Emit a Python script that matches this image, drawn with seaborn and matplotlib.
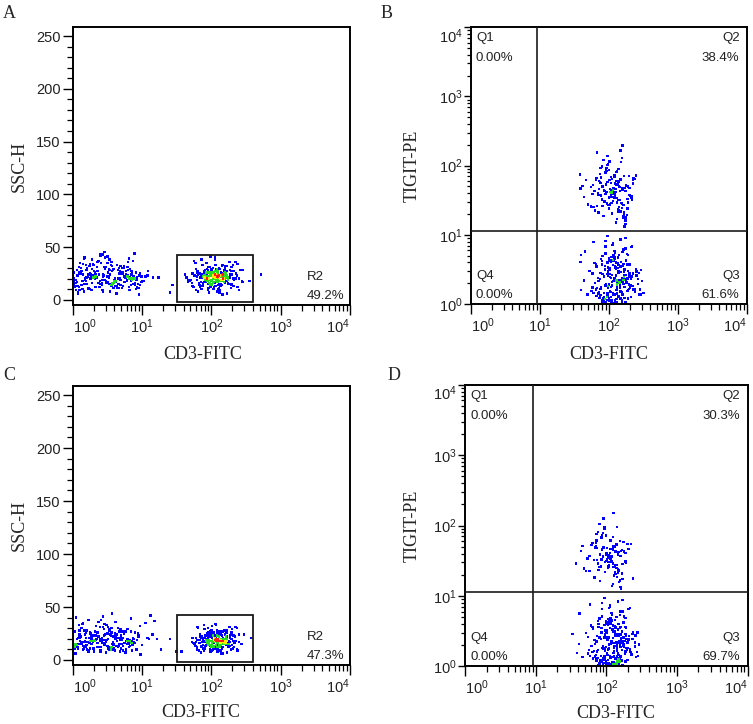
import numpy as np
import pandas as pd
import matplotlib
matplotlib.use("Agg")
import matplotlib.pyplot as plt
import seaborn as sns
from matplotlib.patches import Rectangle
from matplotlib.ticker import LogLocator, MultipleLocator, NullFormatter

# ---------------- data (x values are log10 of CD3-FITC; B/D y values are log10 of TIGIT-PE) -------------
A_neg_logx = [0.02,0.15,0.33,0.48,0.61,0.77,0.88,0.05,0.22,0.41,
              0.56,0.69,0.83,0.95,0.12,0.28,0.37,0.52,0.64,0.73,
              0.91,0.08,0.19,0.45,0.58,0.80,0.03,0.26,0.39,0.67,
              0.85,1.02,0.14,0.31,0.50,0.62,0.75,0.97,0.01,0.24,
              0.43,0.55,0.70,0.87,0.10,0.35,0.47,0.59,0.79,0.93,
              0.06,0.18,0.29,0.53,0.66,0.72,0.84,1.06,0.21,0.40,
              0.57,0.68,0.90,0.04,0.16,0.34,0.46,0.63,0.76,0.99,
              0.11,0.27,0.38,0.51,0.65,0.81,0.94,0.00,0.23,0.44,
              0.60,0.74,0.86,0.13,0.30,0.49,0.54,0.71,0.89,1.09,
              0.07,0.20,0.36,0.42,0.58,0.78,0.82,0.96,0.17,0.32,
              0.47,0.62,0.69,0.88,0.02,0.25,0.39,0.53,0.74,0.92,
              0.09,0.44,0.57,0.66,0.85,0.28,0.50,0.63,0.79,1.01]
A_neg_ssc = [17,24,12,31,20,27,15,9,22,35,
             14,19,29,11,25,38,16,21,33,13,
             26,7,18,23,28,36,12,20,15,30,
             24,18,10,27,41,17,22,14,26,32,
             19,13,25,37,9,21,29,16,23,12,
             28,20,34,15,11,25,18,22,30,43,
             16,27,14,19,8,24,31,13,21,17,
             35,23,12,26,20,39,15,28,10,22,
             18,30,25,14,33,17,24,11,20,27,
             13,21,36,16,29,19,9,23,15,26,
             40,18,32,22,14,25,12,28,17,19,
             31,24,13,20,27,16,35,6,22,18]
A_neg2_logx = [0.31,0.58,0.12,0.86,0.44,0.70,0.03,0.25,0.93,0.51,
               0.17,0.64,0.38,0.80,0.08,0.47,0.74,0.21,0.99,0.56,
               0.34,0.67,0.14,0.89,0.42,0.01,0.60,0.27,0.77,0.49,
               0.19,0.83,0.36,0.62,0.06,0.53,0.91,0.29,0.72,0.45,
               0.11,0.66,0.40,0.85,0.23,0.57,0.04,0.79,0.33,0.96,
               0.48,0.15,0.69,0.26,0.82,0.52,0.09,0.61,0.37,1.04,
               0.43,0.73,0.18,0.55,0.87,0.30,0.65,0.02,0.46,0.78,
               0.22,0.59,0.35,0.90,0.13,0.68,0.41,0.84,0.07,0.54,
               0.28,0.75,0.50,0.16,0.63,0.97,0.39,0.71,0.24,0.88,
               0.00,0.57,0.32,0.81,0.10,0.44,0.67,1.08,0.20,0.60]
A_neg2_ssc = [23,15,30,19,8,26,13,34,21,17,
              40,11,24,28,6,19,32,15,22,36,
              12,25,18,44,14,20,29,9,24,16,
              33,21,27,13,17,38,10,23,30,19,
              25,15,42,20,11,27,16,31,22,5,
              18,34,14,24,20,29,12,17,37,22,
              9,26,19,33,15,21,28,13,45,18,
              24,11,31,16,27,20,35,14,23,8,
              29,17,22,39,13,25,18,30,10,21,
              16,32,20,12,26,43,15,23,28,19]
A_pos_logx = [2.05,1.92,2.18,1.83,2.27,1.98,2.11,1.74,2.36,2.02,
              1.88,2.14,2.22,1.95,2.08,1.69,2.31,2.00,1.86,2.16,
              2.25,1.79,2.07,1.97,2.40,2.12,1.90,2.03,2.20,1.81,
              2.09,1.94,2.29,2.01,1.64,2.15,2.24,1.89,2.06,1.99,
              2.33,1.85,2.10,2.19,1.93,2.04,1.77,2.26,2.13,1.96,
              2.44,2.00,1.87,2.17,2.08,1.72,2.21,2.03,1.91,2.12,
              2.30,1.98,2.06,1.84,2.23,2.15,1.94,2.38,2.01,1.80,
              2.09,2.18,1.96,2.27,1.67,2.05,2.11,1.89,2.20,2.02,
              1.93,2.34,2.07,1.76,2.14,2.00,2.24,1.86,2.10,1.97,
              2.16,2.04,1.82,2.28,2.12,1.95,2.46,2.08,1.90,2.19,
              2.01,1.73,2.22,2.06,1.88,2.13,2.32,1.99,2.17,1.85,
              2.25,2.03,1.92,2.10,2.37,1.78,2.05,2.15,1.97,2.21]
A_pos_ssc = [21,17,25,14,28,19,23,12,20,30,
             16,22,27,9,24,18,13,26,21,33,
             15,19,24,11,20,29,17,23,26,8,
             22,18,31,14,21,25,16,27,20,12,
             19,24,10,28,22,17,35,21,15,26,
             18,23,13,20,29,16,25,22,19,7,
             24,14,27,21,18,32,20,12,23,26,
             17,22,15,28,19,24,11,21,30,16,
             25,20,13,23,18,27,21,38,14,22,
             19,26,16,24,9,21,28,17,23,20,
             15,25,18,33,22,13,27,19,24,17,
             21,10,26,18,23,29,16,22,20,25]
A_pos2_logx = [2.03,2.19,1.88,2.12,1.96,2.28,1.81,2.07,2.35,1.93,
               2.15,2.00,1.71,2.23,2.09,1.90,2.31,1.98,2.14,1.84,
               2.21,2.05,1.95,2.42,1.78,2.11,2.02,2.26,1.87,2.17,
               1.99,2.33,1.92,2.08,1.66,2.20,2.04,1.86,2.29,2.13,
               1.97,2.38,2.06,1.83,2.16,2.24,1.91,2.01,2.10,1.75,
               2.27,2.04,1.94,2.18,2.45,1.89,2.08,2.22,1.98,2.13,
               1.80,2.30,2.02,1.93,2.17,2.06,1.62,2.25,2.11,1.96,
               2.36,2.00,1.87,2.20,2.09,1.95,2.28,2.05,1.79,2.14,
               2.03,2.40,1.91,2.18,2.07,1.85,2.23,2.12,1.99,2.32,
               1.73,2.10,2.01,2.26,1.94,2.16,2.04,1.97,2.21,2.08]
A_pos2_ssc = [20,27,15,23,31,11,24,18,36,22,
              14,29,19,6,25,21,33,16,26,12,
              23,38,18,28,9,21,30,15,24,19,
              41,13,26,22,17,32,20,10,27,23,
              16,34,21,25,5,19,28,14,22,37,
              24,12,29,20,17,26,8,23,31,18,
              27,15,22,35,19,13,24,21,30,11,
              25,18,33,16,20,28,14,40,22,19,
              26,9,23,17,29,21,32,15,24,20,
              13,27,19,36,22,18,25,7,21,28]
A_out_logx = [1.16, 1.24, 1.40, 1.44, 2.72, 2.55]
A_out_ssc = [21, 21, 7, 14, 24, 18]

C_neg_logx = [0.04,0.27,0.51,0.72,0.18,0.39,0.63,0.86,0.09,0.33,
              0.57,0.79,0.12,0.45,0.68,0.95,0.01,0.23,0.48,0.70,
              0.15,0.36,0.60,0.83,1.05,0.07,0.30,0.54,0.76,0.20,
              0.42,0.65,0.89,0.03,0.26,0.49,0.73,1.12,0.14,0.38,
              0.61,0.81,0.10,0.34,0.56,0.78,0.97,0.06,0.29,0.52,
              0.75,0.19,0.43,0.66,0.87,0.02,0.24,0.47,0.69,1.18,
              0.16,0.40,0.59,0.84,0.11,0.35,0.58,0.80,0.05,0.28,
              0.50,0.74,0.92,0.21,0.44,0.67,0.08,0.31,0.55,0.77,
              1.00,0.17,0.41,0.62,0.85,0.00,0.25,0.46,0.71,0.13,
              0.37,0.64,0.90,0.22,0.53,0.79,1.08,0.06,0.32,0.57,
              0.82,0.19,0.45,0.68,0.03,0.27,0.51,0.73,0.94,0.15,
              0.39,0.62,0.86,0.10,0.48,0.70,1.15,0.24,0.56,0.88]
C_neg_ssc = [15,22,11,27,18,9,24,14,33,19,
             12,20,16,29,8,23,13,38,17,21,
             10,26,15,19,35,12,18,24,7,14,
             21,30,16,11,25,19,13,42,17,22,
             9,15,28,20,12,18,32,14,23,10,
             16,26,19,13,21,6,17,24,15,37,
             11,20,14,27,18,12,22,16,40,19,
             13,25,10,17,31,15,21,8,23,18,
             14,28,12,20,16,24,11,34,19,15,
             22,13,26,17,10,29,21,14,18,44,
             16,12,23,19,27,15,20,9,25,13,
             18,36,14,21,17,11,24,16,30,20]
C_neg2_logx = [0.26,0.53,0.09,0.78,0.41,0.66,0.02,0.20,0.88,0.47,
               0.14,0.59,0.35,0.74,0.05,0.43,0.69,0.18,0.93,0.51,
               0.30,0.62,0.11,0.84,0.38,0.00,0.56,0.23,0.72,0.45,
               0.16,0.80,0.33,0.58,0.07,0.49,0.86,0.27,0.68,0.42,
               0.12,0.63,0.37,0.82,0.21,0.54,0.04,0.76,0.31,0.98,
               0.46,0.13,0.65,0.24,0.79,0.50,0.08,0.57,0.34,1.10,
               0.40,0.70,0.17,0.52,0.83,0.28,0.61,0.03,0.44,0.75,
               0.19,0.55,0.32,0.87,0.10,0.64,0.39,0.81,0.06,0.48,
               0.25,0.71,0.47,0.15,0.60,0.95,0.36,0.67,0.22,0.85,
               0.01,0.53,0.29,0.77,0.09,0.41,0.63,1.22,0.18,0.58]
C_neg2_ssc = [18,12,24,15,9,21,13,28,17,14,
              34,10,20,25,6,16,29,13,19,31,
              11,22,15,39,12,18,26,8,21,14,
              28,19,23,11,15,33,9,20,27,17,
              22,13,36,18,10,24,14,27,19,5,
              16,30,12,21,18,25,11,15,32,20,
              8,23,17,29,13,19,25,12,41,16,
              21,10,27,14,24,18,31,12,20,7,
              26,15,19,35,11,22,16,27,9,18,
              14,28,17,10,23,38,13,20,24,17]
C_pos_logx = [2.08,1.95,2.19,1.86,2.27,2.03,2.13,1.79,2.35,2.00,
              1.91,2.16,2.22,1.98,2.10,1.75,2.31,2.05,1.89,2.18,
              2.25,1.83,2.11,2.01,2.40,2.14,1.93,2.06,2.21,1.85,
              2.12,1.97,2.29,2.04,1.72,2.17,2.24,1.92,2.09,2.02,
              2.33,1.88,2.13,2.20,1.96,2.07,1.81,2.26,2.15,1.99,
              2.44,2.03,1.90,2.18,2.10,1.77,2.23,2.06,1.94,2.14,
              2.30,2.00,2.08,1.87,2.25,2.16,1.96,2.37,2.04,1.84,
              2.11,2.19,1.98,2.28,1.74,2.07,2.13,1.91,2.22,2.05,
              1.95,2.34,2.09,1.80,2.16,2.02,2.26,1.89,2.12,2.00,
              2.18,2.06,1.86,2.29,2.14,1.97,2.47,2.10,1.93,2.21,
              2.03,1.78,2.23,2.08,1.90,2.15,2.32,2.01,2.17,1.88]
C_pos_ssc = [17,14,20,12,23,16,19,10,18,25,
             13,18,22,8,20,15,11,21,17,28,
             12,16,20,9,17,24,14,19,22,7,
             18,15,26,12,17,21,13,23,16,10,
             16,20,9,24,18,14,30,17,12,22,
             15,19,11,17,25,13,21,18,16,6,
             20,12,23,17,15,27,16,10,19,22,
             14,18,13,24,16,20,9,17,26,13,
             21,16,11,19,15,23,17,33,12,18,
             16,22,13,20,8,17,24,14,19,16,
             12,21,15,28,18,11,23,16,20,14]
C_pos2_logx = [2.07,2.20,1.92,2.14,1.99,2.28,1.85,2.10,2.35,1.96,
               2.16,2.03,1.78,2.23,2.11,1.93,2.30,2.00,2.15,1.88,
               2.21,2.07,1.97,2.40,1.82,2.12,2.04,2.26,1.90,2.18,
               2.01,2.33,1.95,2.09,1.76,2.20,2.06,1.89,2.28,2.14,
               1.99,2.37,2.08,1.86,2.17,2.24,1.94,2.03,2.11,1.80,
               2.27,2.06,1.96,2.19,2.43,1.91,2.09,2.22,2.00,2.14,
               1.84,2.30,2.04,1.95,2.18,2.08,1.73,2.25,2.12,1.98,
               2.34,2.02,1.90,2.21,2.10,1.97,2.27,2.06,1.83,2.15,
               2.05,2.38,1.94,2.19,2.09,1.88,2.23,2.13,2.01,2.31,
               1.79,2.11,2.03,2.26,1.96,2.17,2.06,1.99,2.22,2.10]
C_pos2_ssc = [18,24,13,20,27,10,21,16,31,19,
              12,25,17,7,22,18,29,14,23,11,
              20,33,16,24,9,18,26,13,21,17,
              32,12,23,19,15,28,18,9,24,20,
              14,30,19,22,6,17,25,13,20,31,
              21,11,26,18,15,23,8,20,28,16,
              24,14,19,30,17,12,21,18,27,10,
              22,16,29,14,18,25,13,34,19,17,
              23,9,20,15,26,19,28,14,21,18,
              12,24,17,31,19,16,22,8,18,25]
C_out_logx = [1.27, 1.40, 1.50, 1.57, 2.57]
C_out_ssc = [10, 20, 8, 8, 21]

B_up_logx = [2.06,1.94,2.17,1.85,2.25,2.01,2.11,1.78,2.30,1.99,
             1.90,2.14,2.21,1.97,2.08,1.70,2.28,2.03,1.88,2.15,
             2.24,1.82,2.10,2.00,2.35,2.12,1.92,2.05,2.19,1.86,
             2.09,1.96,2.26,2.02,1.62,2.16,2.22,1.91,2.07,1.98,
             2.32,1.87,2.13,2.20,1.95,2.04,1.76,2.23,2.11,1.93,
             2.38,2.00,1.89,2.18,2.06,1.74,2.21,2.03,1.94,2.12,
             2.27,1.99,2.08,1.84,2.24,2.15,1.96,2.33,2.01,1.80,
             2.10,2.17,1.97,2.29,1.58,2.05,2.13,1.90,2.19,2.02,
             1.59,1.64,2.35,2.20,1.83]
B_up_logy = [1.65,1.48,1.80,1.32,1.72,1.55,1.91,1.40,1.68,2.02,
             1.51,1.77,1.25,1.62,1.86,1.44,1.70,1.58,1.97,1.36,
             1.63,1.82,1.18,1.53,1.74,1.47,2.08,1.60,1.39,1.78,
             1.56,1.94,1.29,1.66,1.71,1.50,1.85,1.42,1.61,2.14,
             1.54,1.76,1.34,1.67,1.89,1.46,1.59,1.12,1.73,1.64,
             1.81,1.38,1.57,2.05,1.49,1.69,1.27,1.75,1.63,1.92,
             1.52,1.43,1.84,1.60,1.21,1.70,1.96,1.55,1.79,1.35,
             1.66,2.22,1.45,1.58,1.87,1.31,1.73,1.50,2.29,1.62,
             1.67,1.55,1.79,2.29,2.19]
B_up2_logx = [2.08,1.96,2.19,1.87,2.26,2.02,2.13,1.81,2.31,2.00,
              1.93,2.16,2.22,1.98,2.10,1.74,2.29,2.05,1.90,2.17,
              2.25,1.85,2.12,2.03,2.36,2.14,1.94,2.07,2.21,1.88,
              2.11,1.97,2.27,2.04,1.67,2.18,2.23,1.92,2.09,2.01,
              2.33,1.89,2.15,2.20,1.97,2.06,1.79,2.24,2.13,1.95,
              2.39,2.02,1.91,2.19,2.08,1.77,2.22,2.05,1.96,2.14,
              2.28,2.00,2.10,1.86,2.25,2.16,1.98,2.34,2.03,1.83]
B_up2_logy = [1.60,1.73,1.45,1.88,1.52,1.66,1.37,1.80,1.57,1.94,
              1.48,1.69,1.30,1.76,1.62,1.41,1.85,1.55,1.99,1.34,
              1.71,1.58,1.23,1.64,1.82,1.50,1.90,1.67,1.43,1.75,
              1.53,1.97,1.38,1.61,1.79,1.46,1.68,1.27,1.74,2.06,
              1.56,1.83,1.40,1.65,1.92,1.49,1.63,1.16,1.77,1.59,
              1.86,1.44,1.70,2.11,1.54,1.72,1.33,1.81,1.60,1.95,
              1.47,1.39,1.78,1.66,1.25,1.63,2.01,1.51,1.84,1.42]
B_low_logx = [2.10,1.97,2.21,1.88,2.30,2.04,2.15,1.80,2.38,2.01,
              1.93,2.18,2.25,1.99,2.12,1.72,2.33,2.07,1.90,2.20,
              2.28,1.84,2.13,2.03,2.44,2.16,1.95,2.08,2.23,1.87,
              2.11,1.98,2.31,2.05,1.65,2.19,2.26,1.94,2.09,2.02,
              2.36,1.89,2.14,2.22,1.96,2.06,1.78,2.27,2.17,1.92,
              2.47,2.03,1.91,2.20,2.10,1.75,2.24,2.05,1.97,2.14,
              2.32,2.01,2.09,1.86,2.27,2.18,1.99,2.40,2.04,1.82,
              2.12,2.21,1.98,2.30,1.60,2.08,2.15,1.93,2.23,2.06,
              1.96,2.35,2.11,1.79,2.17,2.03,2.26,1.89,2.13,2.00,
              2.19,2.07,1.85,2.29,2.14,1.98,2.50,2.10,1.92,2.22,
              2.04,1.76,2.25,2.09,1.90,2.16,2.34,2.02,2.18,1.87,
              2.24,2.06,1.95,2.12,2.39,1.81,2.08,2.20,1.99,2.28,
              2.11,1.94,2.17,2.03,2.42,1.59,1.60,2.47]
B_low_logy = [0.35,0.12,0.58,0.22,0.44,0.05,0.71,0.30,0.18,0.52,
              0.40,0.08,0.63,0.26,0.15,0.48,0.82,0.33,0.02,0.55,
              0.20,0.38,0.67,0.10,0.45,0.28,0.91,0.14,0.50,0.36,
              0.03,0.60,0.24,0.42,0.76,0.17,0.31,0.07,0.53,0.39,
              0.21,0.65,0.11,0.46,0.29,0.86,0.16,0.57,0.34,0.04,
              0.49,0.25,0.69,0.13,0.41,0.19,0.95,0.32,0.06,0.56,
              0.27,0.43,0.74,0.09,0.37,0.61,0.23,0.47,0.01,0.54,
              0.30,0.79,0.15,0.40,0.20,0.66,0.35,0.10,0.51,0.88,
              0.26,0.44,0.07,0.59,0.18,0.38,0.72,0.13,0.48,0.28,
              0.02,0.62,0.33,0.22,0.45,0.98,0.16,0.53,0.09,0.39,
              0.68,0.24,0.42,0.05,0.57,0.31,0.84,0.19,0.46,0.12,
              0.36,0.64,0.27,0.03,0.50,0.21,0.77,0.14,0.41,0.08,
              0.34,0.55,0.93,0.17,0.29,0.61,0.71,0.14]
B_low2_logx = [2.12,1.99,2.23,1.90,2.32,2.06,2.17,1.83,2.40,2.03,
               1.95,2.20,2.27,2.01,2.14,1.76,2.35,2.09,1.92,2.22,
               2.30,1.86,2.15,2.05,2.45,2.18,1.97,2.10,2.25,1.89,
               2.13,2.00,2.33,2.07,1.69,2.21,2.28,1.96,2.11,2.04,
               2.38,1.91,2.16,2.24,1.98,2.08,1.81,2.29,2.19,1.94,
               2.48,2.05,1.93,2.22,2.12,1.78,2.26,2.07,1.99,2.16,
               2.34,2.03,2.11,1.88,2.29,2.20,2.01,2.42,2.06,1.85,
               2.14,2.23,2.00,2.32,1.64,2.10,2.17,1.95,2.25,2.08,
               1.98,2.37,2.13,1.82,2.19,2.05,2.28,1.91,2.15,2.02,
               2.21,2.09,1.87,2.31,2.16,2.00,2.44,2.12,1.94,2.24]
B_low2_logy = [0.28,0.47,0.09,0.62,0.36,0.15,0.54,0.23,0.41,0.06,
               0.73,0.32,0.19,0.50,0.12,0.44,0.26,0.67,0.03,0.38,
               0.57,0.17,0.31,0.85,0.21,0.46,0.10,0.60,0.34,0.25,
               0.52,0.08,0.40,0.70,0.14,0.29,0.48,0.02,0.35,0.64,
               0.18,0.43,0.27,0.80,0.11,0.37,0.58,0.22,0.05,0.49,
               0.33,0.68,0.16,0.42,0.24,0.90,0.30,0.13,0.53,0.07,
               0.39,0.61,0.20,0.45,0.28,0.75,0.04,0.36,0.56,0.15,
               0.47,0.25,0.66,0.10,0.34,0.51,0.19,0.83,0.31,0.01,
               0.43,0.22,0.59,0.12,0.38,0.27,0.71,0.06,0.46,0.18,
               0.35,0.55,0.09,0.41,0.24,0.63,0.14,0.30,0.50,0.03]

D_up_logx = [2.04,1.92,2.14,1.83,2.22,1.99,2.09,1.76,2.27,1.97,
             1.88,2.12,2.18,1.95,2.06,1.68,2.25,2.01,1.86,2.13,
             2.20,1.80,2.08,1.98,2.31,2.10,1.90,2.03,2.16,1.85,
             2.07,1.94,2.23,2.00,1.57,2.14,2.19,1.89,2.05,1.96,
             2.28,1.84,2.11,2.17,1.93,2.02,1.73,2.21,2.09,1.91,
             2.35,1.98,1.87,2.15,2.04,1.64,2.19,2.01,1.95,2.10,
             2.38]
D_up_logy = [1.58,1.42,1.73,1.26,1.65,1.50,1.84,1.35,1.61,1.95,
             1.46,1.70,1.20,1.55,1.79,1.39,1.63,1.52,1.88,1.31,
             1.57,1.75,1.14,1.48,1.67,1.41,2.02,1.54,1.33,1.71,
             1.49,1.86,1.24,1.60,1.46,1.44,1.78,1.37,1.56,2.10,
             1.47,1.69,1.29,1.62,1.82,1.40,1.53,1.10,1.66,1.59,
             1.74,1.34,1.51,1.98,1.44,1.64,1.22,1.68,1.57,2.18,
             1.25]
D_up2_logx = [2.06,1.94,2.16,1.86,2.23,2.01,2.11,1.79,2.26,1.99,
              1.90,2.13,2.19,1.96,2.08,1.71,2.24,2.03,1.88,2.15,
              2.21,1.82,2.09,2.00,2.30,2.12,1.92,2.05,2.17,1.87,
              2.09,1.95,2.22,2.02,1.66,2.14,2.18,1.91,2.06,1.97,
              2.27,1.85,2.12,2.16,1.94,2.03,1.76,2.20,2.10,1.93]
D_up2_logy = [1.53,1.66,1.38,1.79,1.45,1.60,1.30,1.72,1.50,1.86,
              1.41,1.63,1.23,1.69,1.56,1.35,1.77,1.48,1.91,1.27,
              1.64,1.51,1.17,1.58,1.74,1.43,1.83,1.61,1.36,1.68,
              1.46,1.89,1.32,1.55,1.71,1.40,1.62,1.21,1.67,1.97,
              1.49,1.75,1.34,1.59,1.84,1.42,1.57,1.13,1.70,1.52]
D_low_logx = [2.09,1.96,2.20,1.87,2.28,2.03,2.14,1.79,2.35,2.00,
              1.92,2.17,2.24,1.98,2.11,1.71,2.31,2.06,1.89,2.19,
              2.26,1.83,2.12,2.02,2.41,2.15,1.94,2.07,2.22,1.86,
              2.10,1.97,2.29,2.04,1.62,2.18,2.25,1.93,2.08,2.01,
              2.33,1.88,2.13,2.21,1.95,2.05,1.77,2.26,2.16,1.91,
              2.44,2.02,1.90,2.19,2.09,1.74,2.23,2.04,1.96,2.13,
              2.30,2.00,2.08,1.85,2.26,2.17,1.98,2.37,2.03,1.81,
              2.11,2.20,1.97,2.28,1.58,2.07,2.14,1.92,2.22,2.05,
              1.95,2.32,2.10,1.78,2.16,2.02,2.25,1.88,2.12,1.99,
              2.18,2.06,1.84,2.27,2.13,1.97,2.45,2.09,1.91,2.21,
              2.03,1.75,2.24,2.08,1.89,2.15,2.33,2.01,2.17,1.86,
              2.23,2.05,1.94,2.11,2.38,1.80,2.07,2.19,1.98,2.27,
              2.12,1.93,2.16,2.02,2.40,2.14,2.10,2.18,2.06,2.15,
              1.52,2.12,2.20,2.08,2.16]
D_low_logy = [0.33,0.11,0.56,0.21,0.43,0.04,0.70,0.29,0.17,0.51,
              0.39,0.07,0.62,0.25,0.14,0.47,0.81,0.32,0.02,0.54,
              0.19,0.37,0.66,0.09,0.44,0.27,0.90,0.13,0.49,0.35,
              0.03,0.59,0.23,0.41,0.75,0.16,0.30,0.06,0.52,0.38,
              0.20,0.64,0.10,0.45,0.28,0.85,0.15,0.56,0.33,0.03,
              0.48,0.24,0.68,0.12,0.40,0.18,0.94,0.31,0.05,0.55,
              0.26,0.42,0.73,0.08,0.36,0.60,0.22,0.46,0.01,0.53,
              0.29,0.78,0.14,0.39,0.19,0.65,0.34,0.09,0.50,0.87,
              0.25,0.43,0.06,0.58,0.17,0.37,0.71,0.12,0.47,0.27,
              0.02,0.61,0.32,0.21,0.44,0.97,0.15,0.52,0.08,0.38,
              0.67,0.23,0.41,0.04,0.56,0.30,0.83,0.18,0.45,0.11,
              0.35,0.63,0.26,0.02,0.49,0.20,0.76,0.13,0.40,0.07,
              0.33,0.54,0.92,0.16,0.28,0.05,0.01,0.10,0.03,0.07,
              0.46,0.02,0.14,0.06,0.09]
D_low2_logx = [2.11,1.98,2.22,1.89,2.30,2.05,2.16,1.82,2.37,2.02,
               1.94,2.19,2.26,2.00,2.13,1.74,2.33,2.08,1.91,2.21,
               2.28,1.85,2.14,2.04,2.43,2.17,1.96,2.09,2.24,1.88,
               2.12,1.99,2.31,2.06,1.66,2.20,2.27,1.95,2.10,2.03,
               2.36,1.90,2.15,2.23,1.97,2.07,1.80,2.28,2.18,1.93,
               2.46,2.04,1.92,2.21,2.11,1.77,2.25,2.06,1.98,2.15,
               2.32,2.02,2.10,1.87,2.28,2.19,2.00,2.40,2.05,1.84,
               2.13,2.22,1.99,2.30,1.61,2.09,2.16,1.94,2.24,2.07,
               1.97,2.35,2.12,1.81,2.18,2.04,2.27,1.90,2.14,2.01,
               2.20,2.08,1.86,2.29,2.15,1.99,2.42,2.11,1.93,2.23,
               2.14,2.17,2.12,2.19,2.15,2.13,2.18,2.16,2.11,2.20]
D_low2_logy = [0.26,0.45,0.08,0.60,0.34,0.14,0.52,0.22,0.39,0.05,
               0.71,0.30,0.18,0.48,0.11,0.42,0.24,0.65,0.02,0.36,
               0.55,0.16,0.29,0.83,0.20,0.44,0.09,0.58,0.32,0.23,
               0.50,0.07,0.38,0.68,0.13,0.27,0.46,0.01,0.33,0.62,
               0.17,0.41,0.25,0.78,0.10,0.35,0.56,0.21,0.04,0.47,
               0.31,0.66,0.15,0.40,0.22,0.88,0.28,0.12,0.51,0.06,
               0.37,0.59,0.19,0.43,0.26,0.73,0.03,0.34,0.54,0.14,
               0.45,0.23,0.64,0.09,0.32,0.49,0.18,0.81,0.29,0.01,
               0.41,0.20,0.57,0.11,0.36,0.25,0.69,0.05,0.44,0.17,
               0.33,0.53,0.08,0.39,0.22,0.61,0.13,0.28,0.48,0.02,
               0.04,0.10,0.02,0.07,0.15,0.01,0.05,0.12,0.03,0.08]

# gates / quadrant markers / annotations
gate_A = [32, 403, -2, 42]      # x0, x1, y0, y1
gate_C = [32, 403, -2, 42]
quad_B = [8.97, 11.5]           # vertical x, horizontal y
quad_D = [9.06, 11.4]
region_label = "R2"
region_pct_A = "49.2%"
region_pct_C = "47.3%"
quad_names = ["Q1", "Q2", "Q3", "Q4"]
quad_pct_B = ["0.00%", "38.4%", "61.6%", "0.00%"]
quad_pct_D = ["0.00%", "30.3%", "69.7%", "0.00%"]
log_ticks = [1, 10, 100, 1000, 10000]
log_tick_labels = [r"$\mathregular{10^{%d}}$" % k for k in range(5)]
ssc_ticks = [0, 50, 100, 150, 200, 250]

# ---------------- style ----------------
sns.set_style("ticks")
plt.rcParams["font.family"] = ["Liberation Sans", "DejaVu Sans"]
plt.rcParams["mathtext.fontset"] = "custom"
plt.rcParams["mathtext.rm"] = "Liberation Sans"
plt.rcParams["mathtext.it"] = "Liberation Sans:italic"
plt.rcParams["mathtext.bf"] = "Liberation Sans:bold"

SERIF = "Liberation Serif"
TICK_C = "#222222"
TICK_FS = 10.5
PAL = {"blue": "#0000ff", "green": "#22dd22", "yellow": "#ffee00", "red": "#ff1a1a"}
ORDER = ["blue", "green", "yellow", "red"]


def density_classes(fx, fy, fracs, radius):
    fx = np.asarray(fx); fy = np.asarray(fy)
    d = np.hypot(fx[:, None] - fx[None, :], fy[:, None] - fy[None, :])
    cnt = (d < radius).sum(1)
    order = np.argsort(-cnt, kind="stable")
    n = len(fx)
    cls = np.array(["blue"] * n, dtype=object)
    r, yel, g = fracs
    nr, ny, ng = int(round(r * n)), int(round(yel * n)), int(round(g * n))
    cls[order[:nr]] = "red"
    cls[order[nr:nr + ny]] = "yellow"
    cls[order[nr + ny:nr + ny + ng]] = "green"
    return cls


def make_df(xs, ys, linear_y, fracs, radius=0.011):
    lx = []; yy = []
    for a, b in zip(xs, ys):
        pairs = list(zip(a, b))
        lx += [p[0] for p in pairs]; yy += [p[1] for p in pairs]
    lx = np.array(lx, float); yy = np.array(yy, float)
    fx = lx / 4.0
    fy = (yy + 5) / 263.0 if linear_y else yy / 4.0
    cls = density_classes(fx, fy, fracs, radius)
    df = pd.DataFrame({"x": 10 ** lx, "y": yy if linear_y else 10 ** yy, "cls": cls})
    df["rank"] = df["cls"].map({c: i for i, c in enumerate(ORDER)})
    return df.sort_values("rank", kind="stable")


def style_xaxis(ax):
    ax.set_xscale("log")
    ax.set_xlim(1, 1e4)
    ax.set_xticks(log_ticks, labels=log_tick_labels)
    ax.xaxis.set_minor_locator(LogLocator(base=10, subs=np.arange(2, 10)))
    ax.xaxis.set_minor_formatter(NullFormatter())
    lbls = ax.get_xticklabels()
    lbls[0].set_ha("left")
    lbls[-1].set_ha("right")
    ax.tick_params(axis="x", which="major", direction="out", length=7, width=1, pad=2,
                   labelsize=TICK_FS, colors="black", labelcolor=TICK_C)
    ax.tick_params(axis="x", which="minor", direction="out", length=4, width=0.9, colors="black")


def frame(ax):
    for s in ax.spines.values():
        s.set_visible(True)
        s.set_linewidth(1.4)
        s.set_color("black")


def ssc_panel(ax, df, gate, pct, xlab_pos, ylab_x):
    sns.scatterplot(data=df, x="x", y="y", hue="cls", palette=PAL, hue_order=ORDER,
                    marker="s", s=3.0, linewidth=0, legend=False, ax=ax)
    style_xaxis(ax)
    ax.set_ylim(-5, 258.3)
    ax.set_yticks(ssc_ticks)
    ax.yaxis.set_minor_locator(MultipleLocator(10))
    ax.tick_params(axis="y", which="major", direction="out", length=7, width=1, pad=1.5,
                   labelsize=TICK_FS, colors="black", labelcolor=TICK_C)
    ax.tick_params(axis="y", which="minor", direction="out", length=4, width=0.9, colors="black")
    ax.add_patch(Rectangle((gate[0], gate[2]), gate[1] - gate[0], gate[3] - gate[2],
                           fill=False, edgecolor="#1a1a1a", linewidth=1.3, zorder=5))
    ax.text(0.843, 0.102, region_label, transform=ax.transAxes, ha="left", va="center",
            fontsize=9.5, color=TICK_C)
    ax.text(0.843, 0.032, pct, transform=ax.transAxes, ha="left", va="center",
            fontsize=9.5, color=TICK_C)
    ax.set_xlabel("CD3-FITC", family=SERIF, fontsize=13)
    ax.set_ylabel("SSC-H", family=SERIF, fontsize=13)
    ax.xaxis.set_label_coords(xlab_pos[0], xlab_pos[1])
    ax.yaxis.set_label_coords(ylab_x, 0.5)
    frame(ax)


def tigit_panel(ax, df, quad, pcts, xlab_pos, ylab_x):
    sns.scatterplot(data=df, x="x", y="y", hue="cls", palette=PAL, hue_order=ORDER,
                    marker="s", s=3.0, linewidth=0, legend=False, ax=ax)
    style_xaxis(ax)
    ax.set_yscale("log")
    ax.set_ylim(1, 1e4)
    ax.set_yticks(log_ticks, labels=log_tick_labels)
    ax.yaxis.set_minor_locator(LogLocator(base=10, subs=np.arange(2, 10)))
    ax.yaxis.set_minor_formatter(NullFormatter())
    ylbls = ax.get_yticklabels()
    ylbls[-1].set_va("top")
    ax.tick_params(axis="y", which="major", direction="out", length=5, width=1, pad=1,
                   labelsize=TICK_FS, colors="black", labelcolor=TICK_C)
    ax.tick_params(axis="y", which="minor", direction="out", length=3, width=0.9, colors="black")
    ax.axvline(quad[0], color="#1a1a1a", linewidth=1.2, zorder=4)
    ax.axhline(quad[1], color="#1a1a1a", linewidth=1.2, zorder=4)
    # quadrant annotations: Q1 top-left, Q2 top-right, Q3 bottom-right, Q4 bottom-left
    spots = [(0.018, "left", 0.961, 0.889), (0.974, "right", 0.961, 0.889),
             (0.974, "right", 0.101, 0.033), (0.018, "left", 0.101, 0.033)]
    for name, pct, (xx, ha, y1, y2) in zip(quad_names, pcts, spots):
        ax.text(xx, y1, name, transform=ax.transAxes, ha=ha, va="center", fontsize=9.5, color=TICK_C)
        ax.text(xx, y2, pct, transform=ax.transAxes, ha=ha, va="center", fontsize=9.5, color=TICK_C)
    ax.set_xlabel("CD3-FITC", family=SERIF, fontsize=13)
    ax.set_ylabel("TIGIT-PE", family=SERIF, fontsize=13)
    ax.xaxis.set_label_coords(xlab_pos[0], xlab_pos[1])
    ax.yaxis.set_label_coords(ylab_x, 0.5)
    frame(ax)


dfA = make_df([A_neg_logx, A_neg2_logx, A_pos_logx, A_pos2_logx, A_out_logx],
              [A_neg_ssc, A_neg2_ssc, A_pos_ssc, A_pos2_ssc, A_out_ssc], True, (0.015, 0.035, 0.17))
dfC = make_df([C_neg_logx, C_neg2_logx, C_pos_logx, C_pos2_logx, C_out_logx],
              [C_neg_ssc, C_neg2_ssc, C_pos_ssc, C_pos2_ssc, C_out_ssc], True, (0.02, 0.04, 0.14))
dfB = make_df([B_up_logx, B_up2_logx, B_low_logx, B_low2_logx],
              [B_up_logy, B_up2_logy, B_low_logy, B_low2_logy], False, (0.0, 0.0, 0.035))
dfD = make_df([D_up_logx, D_up2_logx, D_low_logx, D_low2_logx],
              [D_up_logy, D_up2_logy, D_low_logy, D_low2_logy], False, (0.0, 0.0, 0.03))

fig = plt.figure(figsize=(7.53, 7.24), dpi=100)
fig.patch.set_facecolor("white")
axA = fig.add_axes([0.0965, 0.5787, 0.3683, 0.3836])
axB = fig.add_axes([0.6255, 0.5801, 0.3661, 0.3822])
axC = fig.add_axes([0.0965, 0.0811, 0.3683, 0.3853])
axD = fig.add_axes([0.6179, 0.0797, 0.3750, 0.3889])

ssc_panel(axA, dfA, gate_A, region_pct_A, (0.47, -0.148), -0.161)
tigit_panel(axB, dfB, quad_B, quad_pct_B, (0.50, -0.152), -0.181)
ssc_panel(axC, dfC, gate_C, region_pct_C, (0.46, -0.140), -0.161)
tigit_panel(axD, dfD, quad_D, quad_pct_D, (0.534, -0.136), -0.157)

for lab, (px, py) in zip(["A", "B", "C", "D"], [(3, 5), (381, 5), (3, 367), (388, 367)]):
    fig.text(px / 753, 1 - py / 724, lab, ha="left", va="top", family=SERIF, fontsize=13)

fig.savefig("out.png", dpi=100, facecolor="white")
